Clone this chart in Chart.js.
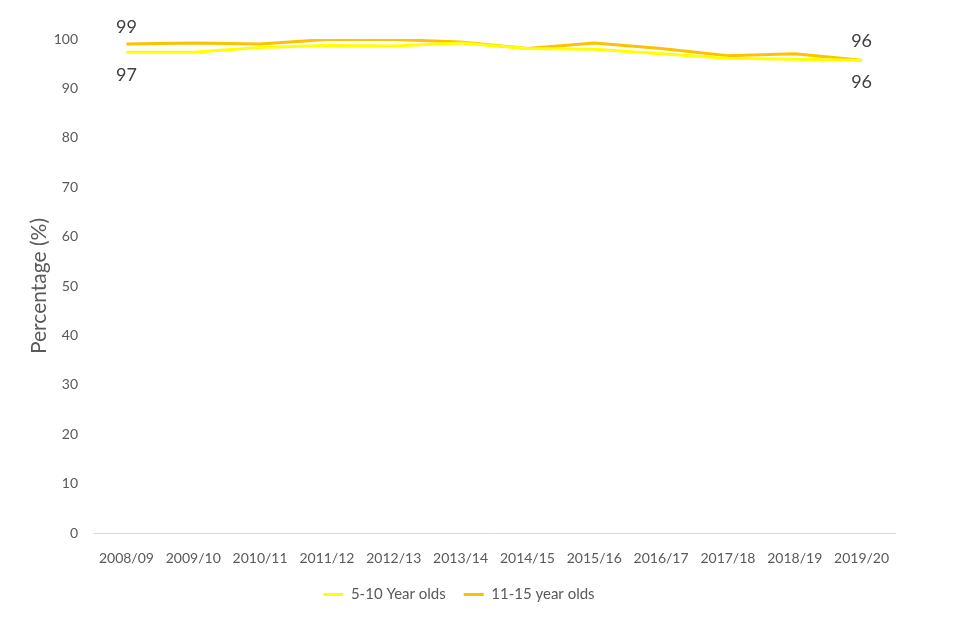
<!DOCTYPE html>
<html>
<head>
<meta charset="utf-8">
<script src="https://cdn.jsdelivr.net/npm/chart.js@4.4.1/dist/chart.umd.min.js"></script>
<style>
  html, body { margin: 0; padding: 0; background: #ffffff; }
  #wrap { width: 960px; height: 640px; }
</style>
</head>
<body>
<div id="wrap"><canvas id="c" width="960" height="640"></canvas></div>
<script>
const categories = ["2008/09","2009/10","2010/11","2011/12","2012/13","2013/14","2014/15","2015/16","2016/17","2017/18","2018/19","2019/20"];
const ages5to10 = [97.3, 97.3, 98.3, 98.7, 98.6, 99.2, 98.1, 97.9, 97.0, 96.1, 95.9, 95.7];
const ages11to15 = [99.0, 99.2, 99.0, 99.9, 99.9, 99.4, 98.1, 99.2, 98.1, 96.6, 97.0, 95.7];
const yTicks = [0, 10, 20, 30, 40, 50, 60, 70, 80, 90, 100];
const seriesNames = ["5-10 Year olds", "11-15 year olds"];
// end-point labels (first and last values, rounded as shown)
const labels5to10 = ["97", "96"];
const labels11to15 = ["99", "96"];

const FONT = "Lato, 'Open Sans', sans-serif";

const endLabels = {
  id: 'endLabels',
  afterDatasetsDraw(chart) {
    const ctx = chart.ctx;
    ctx.save();
    ctx.font = "18px " + FONT;
    ctx.fillStyle = "#404040";
    ctx.textAlign = "center";
    ctx.textBaseline = "middle";
    const m0 = chart.getDatasetMeta(0).data;
    const m1 = chart.getDatasetMeta(1).data;
    const last = m0.length - 1;
    // 5-10: below
    ctx.fillText(labels5to10[0], m0[0].x, m0[0].y + 23);
    ctx.fillText(labels5to10[1], m0[last].x, m0[last].y + 22);
    // 11-15: above
    ctx.fillText(labels11to15[0], m1[0].x, m1[0].y - 17);
    ctx.fillText(labels11to15[1], m1[last].x, m1[last].y - 19);
    ctx.restore();
  }
};

new Chart(document.getElementById('c'), {
  type: 'line',
  data: {
    labels: categories,
    datasets: [
      { label: seriesNames[0], data: ages5to10, borderColor: '#FFFF00', backgroundColor: '#FFFF00', borderWidth: 3, pointRadius: 0, tension: 0, fill: false },
      { label: seriesNames[1], data: ages11to15, borderColor: '#FFC000', backgroundColor: '#FFC000', borderWidth: 3, pointRadius: 0, tension: 0, fill: false }
    ]
  },
  options: {
    responsive: false,
    animation: false,
    layout: { padding: { left: 23, right: 65, top: 39, bottom: 28 } },
    plugins: {
      legend: {
        position: 'bottom',
        labels: {
          usePointStyle: true,
          pointStyle: 'line',
          pointStyleWidth: 20,
          boxHeight: 3,
          color: '#595959',
          font: { family: FONT, size: 15 },
          padding: 18
        }
      },
      tooltip: { enabled: false }
    },
    scales: {
      x: {
        offset: true,
        grid: { display: false, drawTicks: false },
        border: { display: true, color: '#d9d9d9', width: 1 },
        ticks: { color: '#595959', font: { family: FONT, size: 14 }, padding: 17, maxRotation: 0, autoSkip: false },
        afterFit(s) { s.height = 36; }
      },
      y: {
        min: 0, max: 100,
        afterBuildTicks(s) { s.ticks = yTicks.map(v => ({ value: v })); },
        grid: { display: false, drawTicks: false },
        border: { display: false },
        ticks: { color: '#595959', font: { family: FONT, size: 14 }, padding: 15 },
        title: { display: true, text: 'Percentage (%)', color: '#595959', font: { family: FONT, size: 21 }, padding: { top: 4, bottom: 4 } },
        afterFit(s) { s.width = 70; }
      }
    }
  },
  plugins: [endLabels]
});
</script>
</body>
</html>
